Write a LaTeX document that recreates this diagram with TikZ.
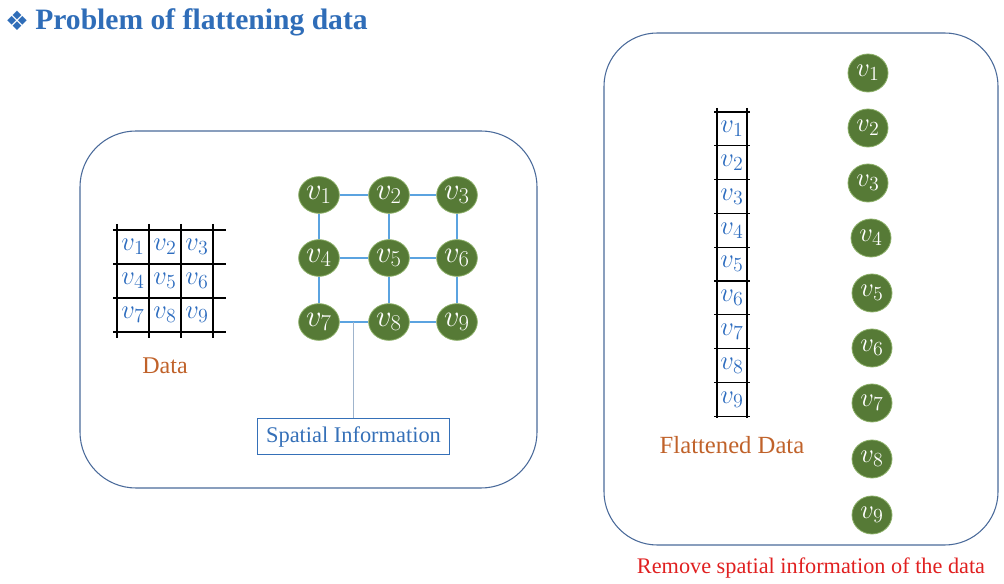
\RequirePackage{fix-cm}
\documentclass[tikz,border=0pt]{standalone}
\usepackage{fontspec}
\setmainfont{Liberation Serif}
\newfontfamily\symfont{DejaVu Sans}
\DeclareMathSizes{20}{20}{15}{11}
\DeclareMathSizes{23}{23}{17}{12}
\usetikzlibrary{shapes.geometric}
\definecolor{titleblue}{HTML}{2F6DB8}
\definecolor{boxline}{HTML}{4A6A9A}
\definecolor{nodegreen}{HTML}{567A36}
\definecolor{nodeedge}{HTML}{8AAE66}
\definecolor{edgeblue}{HTML}{5BA3E0}
\definecolor{cellblue}{HTML}{2E6DBF}
\definecolor{labelorange}{HTML}{C0622A}
\definecolor{spblue}{HTML}{3570B8}
\definecolor{remred}{HTML}{E02020}
\definecolor{linkgrey}{HTML}{9FB4CC}
\tikzset{
  panel/.style={draw=boxline, line width=0.8pt, rounded corners=42pt},
  gnode/.style={ellipse, fill=nodegreen, draw=nodeedge, line width=0.6pt,
    minimum width=30.5pt, minimum height=27.5pt, inner sep=0pt, text=white,
    font=\fontsize{23}{26}\selectfont},
  cnode/.style={gnode, minimum width=30pt, minimum height=28.5pt,
    font=\fontsize{20}{23}\selectfont},
  gedge/.style={draw=edgeblue, line width=1.1pt},
  gridline/.style={draw=black, line width=0.9pt},
  cell/.style={text=cellblue, inner sep=0pt, font=\fontsize{20}{23}\selectfont},
  caption/.style={text=labelorange, inner sep=0pt},
}
\begin{document}
\begin{tikzpicture}[x=0.75pt,y=-0.75pt]
\useasboundingbox (0,0) rectangle (1004,584);
% title
\node (bullet) at (17,21) {\symfont\fontsize{20}{22}\selectfont\color{titleblue}❖};
\node[anchor=base west, inner sep=0pt, text=titleblue, font=\bfseries\fontsize{22.2}{26}\selectfont] (title) at (35,30) {Problem of flattening data};
% panels
\draw[panel] (80,131) rectangle (537,488);
\draw[panel, rounded corners=40pt] (604,33) rectangle (998,545);
% left grid
\foreach \y in {230,264,298,332} \draw[gridline] (113,\y) -- (226,\y);
\foreach \x in {117,149,181,213} \draw[gridline] (\x,224) -- (\x,338);
\node[cell] (c1) at (133,247) {$v_1$};
\node[cell] (c2) at (165,247) {$v_2$};
\node[cell] (c3) at (197,247) {$v_3$};
\node[cell] (c4) at (133,281) {$v_4$};
\node[cell] (c5) at (165,281) {$v_5$};
\node[cell] (c6) at (197,281) {$v_6$};
\node[cell] (c7) at (133,315) {$v_7$};
\node[cell] (c8) at (165,315) {$v_8$};
\node[cell] (c9) at (197,315) {$v_9$};
\node[caption, font=\fontsize{18}{21}\selectfont] (data) at (165,366) {Data};
% graph
\node[gnode] (n1) at (319,195) {$v_1$};
\node[gnode] (n2) at (389,195) {$v_2$};
\node[gnode] (n3) at (457,195) {$v_3$};
\node[gnode] (n4) at (319,258) {$v_4$};
\node[gnode] (n5) at (389,258) {$v_5$};
\node[gnode] (n6) at (457,258) {$v_6$};
\node[gnode] (n7) at (319,322) {$v_7$};
\node[gnode] (n8) at (389,322) {$v_8$};
\node[gnode] (n9) at (457,322) {$v_9$};
\draw[gedge] (n1) -- (n2); \draw[gedge] (n2) -- (n3);
\draw[gedge] (n4) -- (n5); \draw[gedge] (n5) -- (n6);
\draw[gedge] (n7) -- (n8); \draw[gedge] (n8) -- (n9);
\draw[gedge] (n1) -- (n4); \draw[gedge] (n4) -- (n7);
\draw[gedge] (n2) -- (n5); \draw[gedge] (n5) -- (n8);
\draw[gedge] (n3) -- (n6); \draw[gedge] (n6) -- (n9);
\node[draw=spblue, line width=0.8pt, text=spblue, minimum width=144.5pt, minimum height=27.5pt, inner sep=0pt, font=\fontsize{16.8}{19}\selectfont] (spatial) at (353.5,436.5) {Spatial Information};
\coordinate (link) at (353.5,322);
\draw[draw=linkgrey, line width=0.8pt] (link) -- (spatial.north);
% right column grid
\draw[gridline] (717,108) -- (717,418);
\draw[gridline] (747,108) -- (747,418);
\foreach \k in {0,...,9} \draw[gridline] (714,{112+33.8*\k}) -- (750,{112+33.8*\k});
\foreach \k in {1,...,9} \node[cell] (f\k) at (732,{112+33.8*(\k-0.5)}) {$v_{\k}$};
\node[caption, font=\fontsize{18.5}{22}\selectfont] (flat) at (732,445) {Flattened Data};
% right column nodes
\node[cnode] (m1) at (868,73) {$v_1$};
\node[cnode] (m2) at (868,128) {$v_2$};
\node[cnode] (m3) at (868,183) {$v_3$};
\node[cnode] (m4) at (871,238) {$v_4$};
\node[cnode] (m5) at (872,293) {$v_5$};
\node[cnode] (m6) at (872,348) {$v_6$};
\node[cnode] (m7) at (872,403) {$v_7$};
\node[cnode] (m8) at (872,459) {$v_8$};
\node[cnode] (m9) at (872,515) {$v_9$};
\node[inner sep=0pt, text=remred, font=\fontsize{16.7}{20}\selectfont] (remove) at (811,568) {Remove spatial information of the data};
\end{tikzpicture}
\end{document}
